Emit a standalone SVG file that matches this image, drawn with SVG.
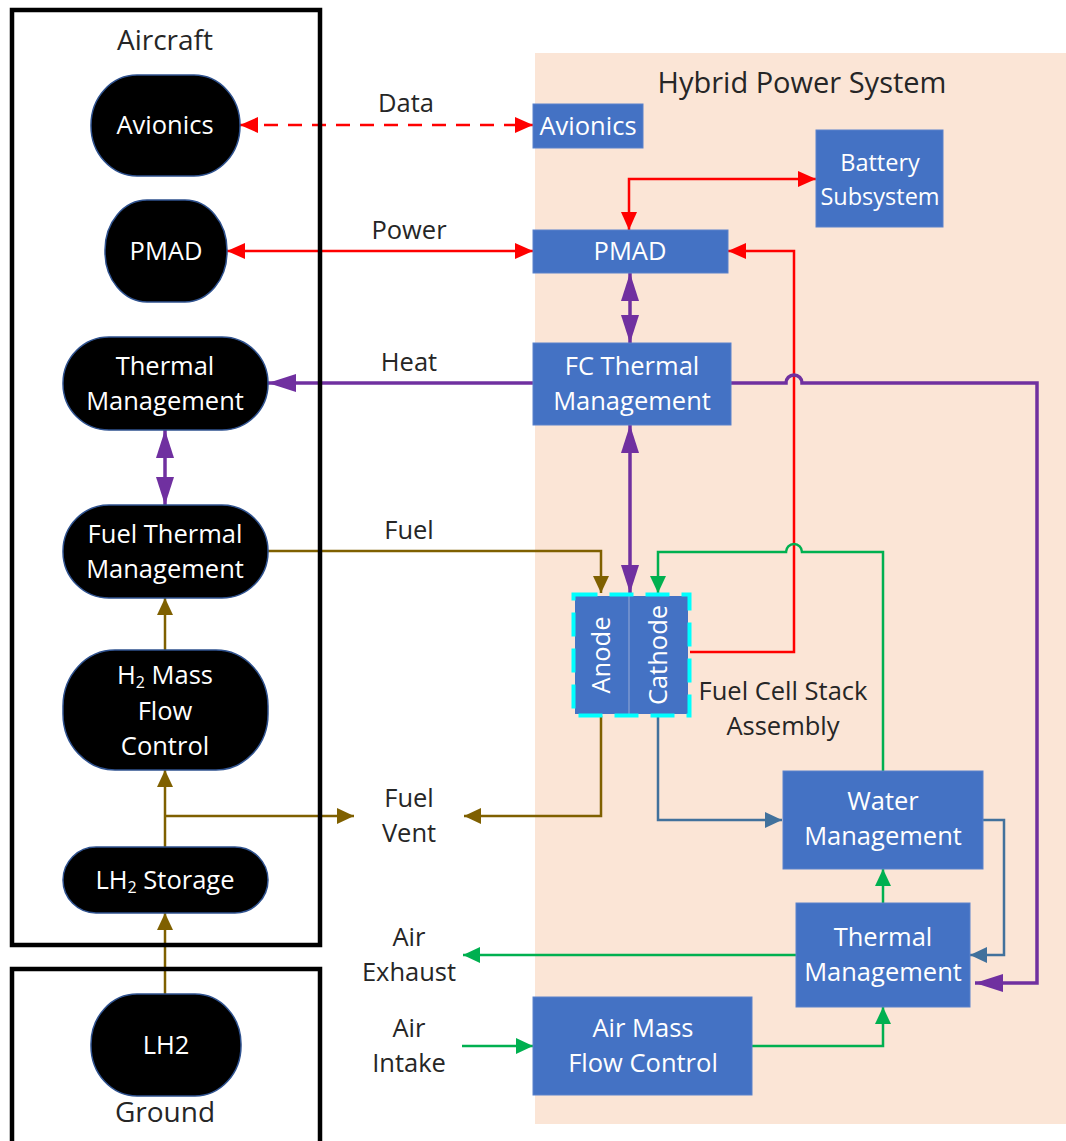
<svg xmlns="http://www.w3.org/2000/svg" width="1066" height="1141" viewBox="0 0 1066 1141">
<defs>
<style>
.t{font-family:"Open Sans","Liberation Sans",sans-serif;font-size:25.5px;text-anchor:middle;fill:#262626}
.w{fill:#ffffff}
.title{font-size:29px}
.blk{fill:#000000;stroke:#2F528F;stroke-width:1.5}
.blu{fill:#4472C4;stroke:#5B82CB;stroke-width:1}
.frame{fill:none;stroke:#000000;stroke-width:4.5}
.c{fill:none;stroke-linejoin:miter}
.red{stroke:#FF0000;stroke-width:2.5}
.pur{stroke:#7030A0;stroke-width:3.5}
.brn{stroke:#7F6000;stroke-width:2.5}
.grn{stroke:#00B050;stroke-width:2.5}
.stl{stroke:#41719C;stroke-width:2.5}
</style>
<marker id="mr" markerUnits="userSpaceOnUse" markerWidth="18" markerHeight="16" refX="18" refY="8" orient="auto-start-reverse"><path d="M0,0 L18,8 L0,16 z" fill="#FF0000"/></marker>
<marker id="mp" markerUnits="userSpaceOnUse" markerWidth="28" markerHeight="18" refX="28" refY="9" orient="auto-start-reverse"><path d="M0,0 L28,9 L0,18 z" fill="#7030A0"/></marker>
<marker id="mb" markerUnits="userSpaceOnUse" markerWidth="17" markerHeight="16" refX="17" refY="8" orient="auto-start-reverse"><path d="M0,0 L17,8 L0,16 z" fill="#7F6000"/></marker>
<marker id="mg" markerUnits="userSpaceOnUse" markerWidth="17" markerHeight="16" refX="17" refY="8" orient="auto-start-reverse"><path d="M0,0 L17,8 L0,16 z" fill="#00B050"/></marker>
<marker id="ms" markerUnits="userSpaceOnUse" markerWidth="17" markerHeight="16" refX="17" refY="8" orient="auto-start-reverse"><path d="M0,0 L17,8 L0,16 z" fill="#41719C"/></marker>
</defs>
<rect x="0" y="0" width="1066" height="1141" fill="#ffffff"/>
<g id="hybrid-power-system">
<rect x="535" y="53" width="531" height="1071" fill="#FBE5D6"/>
<text class="t title" x="802" y="93">Hybrid Power System</text>
</g>
<g id="connectors">
<path class="c red" d="M240,125 H533" stroke-dasharray="14 10" marker-start="url(#mr)" marker-end="url(#mr)"/>
<path class="c red" d="M227,251 H533" marker-start="url(#mr)" marker-end="url(#mr)"/>
<path class="c red" d="M629,230 V179 H816" marker-start="url(#mr)" marker-end="url(#mr)"/>
<path class="c red" d="M690,652 H794 V251 H728" marker-end="url(#mr)"/>
<path class="c pur" d="M630,273 V343" marker-start="url(#mp)" marker-end="url(#mp)"/>
<path class="c pur" d="M630,425 V593" marker-start="url(#mp)" marker-end="url(#mp)"/>
<path class="c pur" d="M533,383 H268" marker-end="url(#mp)"/>
<path class="c pur" d="M731,383 H786 A8,8 0 0 1 802,383 H1037 V983 H975" marker-end="url(#mp)"/>
<path class="c pur" d="M165,430 V505" marker-start="url(#mp)" marker-end="url(#mp)"/>
<path class="c brn" d="M268,551 H601 V593" marker-end="url(#mb)"/>
<path class="c brn" d="M165,650 V598" marker-end="url(#mb)"/>
<path class="c brn" d="M165,847 V770" marker-end="url(#mb)"/>
<path class="c brn" d="M165,816 H354" marker-end="url(#mb)"/>
<path class="c brn" d="M165,994 V913" marker-end="url(#mb)"/>
<path class="c brn" d="M601,716 V816 H464" marker-end="url(#mb)"/>
<path class="c grn" d="M883,771 V552 H802 A8,8 0 0 0 786,552 H658 V593" marker-end="url(#mg)"/>
<path class="c grn" d="M883,903 V869" marker-end="url(#mg)"/>
<path class="c grn" d="M796,955 H463" marker-end="url(#mg)"/>
<path class="c grn" d="M462,1046 H533" marker-end="url(#mg)"/>
<path class="c grn" d="M752,1046 H883 V1007" marker-end="url(#mg)"/>
<path class="c stl" d="M658,716 V820 H782" marker-end="url(#ms)"/>
<path class="c stl" d="M983,820 H1004 V955 H970" marker-end="url(#ms)"/>
</g>
<g id="aircraft-frame">
<rect class="frame" x="12" y="10" width="308" height="935"/>
<text class="t" x="165" y="50" style="font-size:28px">Aircraft</text>
</g>
<g id="ground-frame">
<rect class="frame" x="12" y="969" width="308" height="200"/>
<text class="t" x="165" y="1122" style="font-size:28px">Ground</text>
</g>
<g id="ac-avionics">
<rect class="blk" x="91" y="75" width="149" height="101" rx="46" ry="50"/>
<text class="t w" x="165" y="134">Avionics</text>
</g>
<g id="ac-pmad">
<rect class="blk" x="105" y="200" width="122" height="102" rx="42" ry="50"/>
<text class="t w" x="166" y="260">PMAD</text>
</g>
<g id="ac-thermal">
<rect class="blk" x="63" y="337" width="205" height="93" rx="46" ry="46"/>
<text class="t w" x="165" y="375">Thermal</text>
<text class="t w" x="165" y="410">Management</text>
</g>
<g id="ac-fuel-thermal">
<rect class="blk" x="63" y="505" width="205" height="93" rx="46" ry="46"/>
<text class="t w" x="165" y="543">Fuel Thermal</text>
<text class="t w" x="165" y="578">Management</text>
</g>
<g id="ac-h2-mass-flow">
<rect class="blk" x="63" y="650" width="205" height="120" rx="52" ry="56"/>
<text class="t w" x="165" y="684">H<tspan font-size="16" dy="4">2</tspan><tspan dy="-4"> Mass</tspan></text>
<text class="t w" x="165" y="720">Flow</text>
<text class="t w" x="165" y="755">Control</text>
</g>
<g id="ac-lh2-storage">
<rect class="blk" x="63" y="847" width="205" height="66" rx="33" ry="33"/>
<text class="t w" x="165" y="889">LH<tspan font-size="16" dy="4">2</tspan><tspan dy="-4"> Storage</tspan></text>
</g>
<g id="ground-lh2">
<rect class="blk" x="91" y="994" width="150" height="102" rx="46" ry="50"/>
<text class="t w" x="166" y="1054">LH2</text>
</g>
<g id="hp-avionics">
<rect class="blu" x="533" y="104" width="110" height="44"/>
<text class="t w" x="588" y="135">Avionics</text>
</g>
<g id="hp-battery">
<rect class="blu" x="816" y="130" width="127" height="97"/>
<text class="t w" x="880" y="171" style="font-size:23.5px">Battery</text>
<text class="t w" x="880" y="205" style="font-size:23.5px">Subsystem</text>
</g>
<g id="hp-pmad">
<rect class="blu" x="533" y="230" width="195" height="43"/>
<text class="t w" x="630" y="260">PMAD</text>
</g>
<g id="hp-fc-thermal">
<rect class="blu" x="533" y="343" width="198" height="82"/>
<text class="t w" x="632" y="375">FC Thermal</text>
<text class="t w" x="632" y="410">Management</text>
</g>
<g id="fuel-cell-stack">
<rect x="575" y="596" width="113" height="118" fill="#4472C4"/>
<line x1="629" y1="596" x2="629" y2="714" stroke="#7B98D0" stroke-width="1.5"/>
<rect x="573.5" y="594.5" width="116" height="121" fill="none" stroke="#00FFFF" stroke-width="4" stroke-dasharray="24 12"/>
<text class="t w" transform="translate(601,655) rotate(-90)" x="0" y="9">Anode</text>
<text class="t w" transform="translate(658,655) rotate(-90)" x="0" y="9">Cathode</text>
<text class="t" x="783" y="700">Fuel Cell Stack</text>
<text class="t" x="783" y="735">Assembly</text>
</g>
<g id="hp-water">
<rect class="blu" x="783" y="771" width="200" height="98"/>
<text class="t w" x="883" y="810">Water</text>
<text class="t w" x="883" y="845">Management</text>
</g>
<g id="hp-thermal">
<rect class="blu" x="796" y="903" width="174" height="104"/>
<text class="t w" x="883" y="946">Thermal</text>
<text class="t w" x="883" y="981">Management</text>
</g>
<g id="hp-air-mass-flow">
<rect class="blu" x="533" y="997" width="219" height="98"/>
<text class="t w" x="643" y="1037">Air Mass</text>
<text class="t w" x="643" y="1072">Flow Control</text>
</g>
<g id="labels">
<text class="t" x="406" y="112">Data</text>
<text class="t" x="409" y="239">Power</text>
<text class="t" x="409" y="371">Heat</text>
<text class="t" x="409" y="539">Fuel</text>
<text class="t" x="409" y="807">Fuel</text>
<text class="t" x="409" y="842">Vent</text>
<text class="t" x="409" y="946">Air</text>
<text class="t" x="409" y="981">Exhaust</text>
<text class="t" x="409" y="1037">Air</text>
<text class="t" x="409" y="1072">Intake</text>
</g>
</svg>
